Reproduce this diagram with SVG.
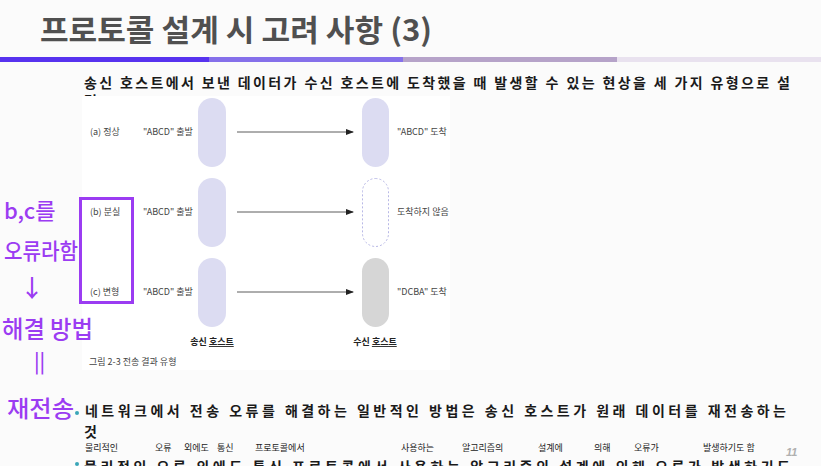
<svg xmlns="http://www.w3.org/2000/svg" width="821" height="466" viewBox="0 0 821 466">
<defs>
<style>
.title{font-family:"Noto Sans CJK KR","Noto Sans",sans-serif;font-weight:700;font-size:30px;fill:#505050}
.body{font-family:"Noto Sans CJK KR","Noto Sans",sans-serif;font-weight:700;font-size:14px;fill:#1a1a1a}
.lbl{font-family:"Noto Sans CJK KR","Noto Sans",sans-serif;font-size:9px;fill:#444}
.host{font-family:"Noto Sans CJK KR","Noto Sans",sans-serif;font-weight:700;font-size:9px;fill:#222}
.hw{font-family:"Noto Sans CJK KR","Noto Sans",sans-serif;font-weight:500;fill:#9b3cf2}
.hws{font-family:"Noto Sans CJK KR","Noto Sans",sans-serif;font-size:9px;fill:#222}
.pill{fill:#dcdcf2}
.arrow{stroke:#333;stroke-width:0.8;fill:none;marker-end:url(#ah)}
</style>
<marker id="ah" viewBox="0 0 8 8" refX="7" refY="4" markerWidth="8" markerHeight="8" markerUnits="userSpaceOnUse" orient="auto">
<path d="M0,1 L8,4 L0,7 Z" fill="#222"/>
</marker>
</defs>
<rect width="821" height="466" fill="#fbfbfb"/>
<text class="title" x="40" y="41" textLength="392" lengthAdjust="spacingAndGlyphs">프로토콜 설계 시 고려 사항 (3)</text>
<rect x="0" y="57" width="209" height="5" fill="#5733ef"/>
<rect x="209" y="57" width="194" height="5" fill="#8570ea"/>
<rect x="403" y="57" width="214" height="5" fill="#b6a3c9"/>
<rect x="617" y="57" width="204" height="5" fill="#e9e2ef"/>
<text class="body" x="84" y="88" textLength="706" lengthAdjust="spacing">송신 호스트에서 보낸 데이터가 수신 호스트에 도착했을 때 발생할 수 있는 현상을 세 가지 유형으로 설</text>
<text class="body" x="84" y="106">명</text>
<g id="figure">
<rect x="82" y="96" width="368" height="274" fill="#ffffff"/>
<g id="row-a">
<text class="lbl" x="90" y="135">(a) 정상</text>
<text class="lbl" x="143" y="135">"ABCD" 출발</text>
<rect id="send-a" class="pill" x="198" y="98" width="28" height="69" rx="14"/>
<rect id="recv-a" class="pill" x="362" y="98" width="27" height="69" rx="13.5"/>
<text class="lbl" x="397" y="135">"ABCD" 도착</text>
</g>
<g id="row-b">
<text class="lbl" x="90" y="215">(b) 분실</text>
<text class="lbl" x="143" y="215">"ABCD" 출발</text>
<rect id="send-b" class="pill" x="198" y="178" width="28" height="69" rx="14"/>
<rect id="recv-b" x="362.5" y="178.5" width="26" height="68" rx="13" fill="none" stroke="#b8b8e6" stroke-width="1" stroke-dasharray="2,2"/>
<text class="lbl" x="397" y="215">도착하지 않음</text>
</g>
<g id="row-c">
<text class="lbl" x="90" y="295">(c) 변형</text>
<text class="lbl" x="143" y="295">"ABCD" 출발</text>
<rect id="send-c" class="pill" x="198" y="258" width="28" height="69" rx="14"/>
<rect id="recv-c" x="362" y="258" width="27" height="69" rx="13.5" fill="#d6d6d6"/>
<text class="lbl" x="397" y="295">"DCBA" 도착</text>
</g>
<g id="connectors">
<line class="arrow" x1="237" y1="132" x2="353" y2="132"/>
<line class="arrow" x1="237" y1="212" x2="353" y2="212"/>
<line class="arrow" x1="237" y1="292" x2="353" y2="292"/>
</g>
<text class="host" x="212" y="345" text-anchor="middle">송신 <tspan text-decoration="underline">호스트</tspan></text>
<text class="host" x="375" y="345" text-anchor="middle">수신 <tspan text-decoration="underline">호스트</tspan></text>
<text class="lbl" x="89" y="365" fill="#555">그림 2-3  전송 결과 유형</text>
</g>
<g id="annotations">
<rect x="80.5" y="198.5" width="52" height="104" fill="none" stroke="#9b3cf2" stroke-width="3"/>
<text class="hw" x="4" y="219" font-size="22">b,c를</text>
<text class="hw" x="4" y="259" font-size="22" textLength="74" lengthAdjust="spacingAndGlyphs">오류라함</text>
<text class="hw" x="20" y="297" font-size="24">↓</text>
<text class="hw" x="2" y="338" font-size="24" textLength="91" lengthAdjust="spacingAndGlyphs">해결 방법</text>
<text class="hw" x="34" y="369" font-size="20">||</text>
<text class="hw" x="7" y="417" font-size="23" textLength="67" lengthAdjust="spacingAndGlyphs">재전송</text>
</g>
<circle cx="77" cy="413" r="2" fill="#3aa6b8"/>
<text class="body" x="85" y="416" textLength="701" lengthAdjust="spacing">네트워크에서 전송 오류를 해결하는 일반적인 방법은 송신 호스트가 원래 데이터를 재전송하는</text>
<text class="body" x="84" y="437">것</text>
<g id="handnote" class="hws">
<text x="85" y="451">물리적인</text>
<text x="155" y="451">오류</text>
<text x="184" y="451">외에도</text>
<text x="217" y="451">통신</text>
<text x="255" y="451">프로토콜에서</text>
<text x="401" y="451">사용하는</text>
<text x="462" y="451">알고리즘의</text>
<text x="538" y="451">설계에</text>
<text x="594" y="451">의해</text>
<text x="634" y="451">오류가</text>
<text x="703" y="451">발생하기도 함</text>
</g>
<text x="786" y="456" font-family="Liberation Sans, sans-serif" font-size="11" font-style="italic" font-weight="700" fill="#b0b0b0">11</text>
<circle cx="77" cy="464" r="2" fill="#3aa6b8"/>
<text class="body" x="84" y="472" textLength="706" lengthAdjust="spacing">물리적인 오류 외에도 통신 프로토콜에서 사용하는 알고리즘의 설계에 의해 오류가 발생하기도</text>
</svg>
